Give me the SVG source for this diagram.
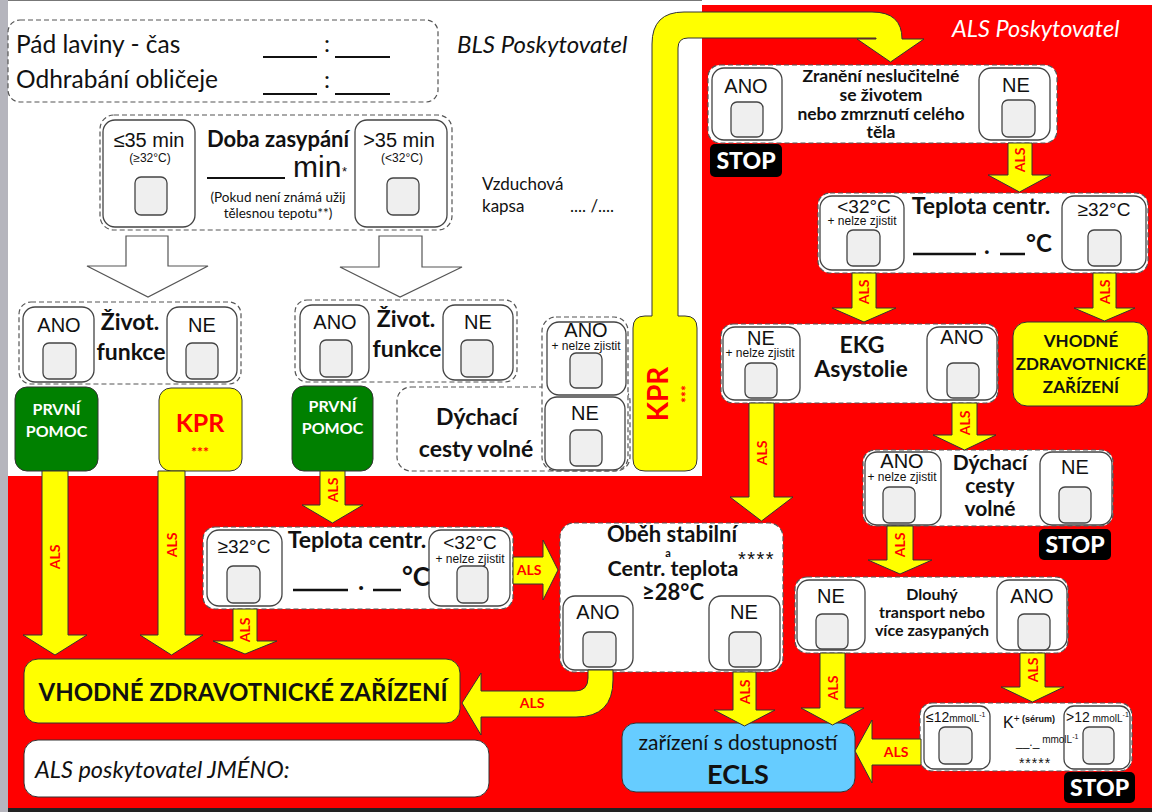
<svg xmlns="http://www.w3.org/2000/svg" width="1152" height="812" viewBox="0 0 1152 812">
<defs>
<style>
.c{font-family:Lato,"Liberation Sans",sans-serif;fill:#111}
.a{font-family:"Liberation Sans",Arial,sans-serif;fill:#111}
.b{font-weight:bold}
.i{font-style:italic}
.m{text-anchor:middle}
.dash{fill:#fff;stroke:#555;stroke-width:1.2;stroke-dasharray:5 3}
.opt{fill:#fff;stroke:#444;stroke-width:1.3}
.cb{fill:#efefef;stroke:#444;stroke-width:1.3}
.yel{fill:#ffff00;stroke:#333;stroke-width:1}
.hol{fill:#fff;stroke:#555;stroke-width:1.2}
.als{font-family:Lato,"Liberation Sans",sans-serif;font-weight:bold;font-size:14px;fill:#ff0000;text-anchor:middle}
.stopbox{fill:#000}
.st{font-family:Lato,"Liberation Sans",sans-serif;font-weight:900;fill:#fff;text-anchor:middle;font-size:23px}
.ln{stroke:#111;stroke-width:2}
</style>
</defs>

<rect x="0" y="0" width="1152" height="812" fill="#fff"/>
<rect x="0" y="0" width="8" height="812" fill="#b5b5bd"/>
<line x1="8" y1="0.5" x2="702" y2="0.5" stroke="#777" stroke-width="1"/>
<path d="M702,5 H1152 V808 H8 V476 H702 Z" fill="#ff0000"/>
<rect x="8" y="808" width="1144" height="4" fill="#222"/>

<g id="times">
<rect class="dash" x="8" y="20" width="430" height="82" rx="12"/>
<text class="c" x="16" y="53" font-size="24.5">Pád laviny - čas</text>
<text class="c" x="16" y="88" font-size="24.5">Odhrabání obličeje</text>
<line class="ln" x1="263" y1="57" x2="317" y2="57"/>
<line class="ln" x1="335" y1="57" x2="390" y2="57"/>
<text class="c" x="324" y="52" font-size="24">:</text>
<line class="ln" x1="263" y1="94" x2="317" y2="94"/>
<line class="ln" x1="335" y1="94" x2="390" y2="94"/>
<text class="c" x="324" y="88" font-size="24">:</text>
</g>

<g id="bls-label">
<text class="c i" x="457" y="53" font-size="24">BLS Poskytovatel</text>
</g>

<g id="doba-zasypani">
<rect class="dash" x="100" y="115" width="352" height="115" rx="14"/>
<rect class="opt" x="103" y="120" width="92" height="107" rx="12"/>
<rect class="opt" x="355" y="120" width="92" height="107" rx="12"/>
<rect class="cb" x="135" y="177" width="32" height="38" rx="6"/>
<rect class="cb" x="387" y="178" width="32" height="37" rx="6"/>
<text class="a m" x="149" y="147" font-size="20">≤35 min</text>
<text class="a m" x="150" y="162" font-size="12">(≥32°C)</text>
<text class="a m" x="399" y="147" font-size="20">&gt;35 min</text>
<text class="a m" x="402" y="162" font-size="12">(&lt;32°C)</text>
<text class="c b m" x="278" y="147" font-size="22">Doba zasypání</text>
<line class="ln" x1="207" y1="178" x2="285" y2="178"/>
<text class="a" x="293" y="177" font-size="30">min</text>
<text class="a" x="342" y="176" font-size="13">*</text>
<text class="c m" x="278" y="202" font-size="13.5">(Pokud není známá užij</text>
<text class="c m" x="278" y="218" font-size="13.5">tělesnou tepotu**)</text>
</g>

<g id="vzduchova-kapsa">
<text class="c" x="482" y="190" font-size="17">Vzduchová</text>
<text class="c" x="482" y="212" font-size="17">kapsa</text>
<text class="c" x="570" y="212" font-size="17">.... /....</text>
</g>

<g id="hollow-arrows">
<polygon class="hol" points="126,236 168,236 168,266 208,266 148,297 87,266 126,266"/>
<polygon class="hol" points="379,236 422,236 422,267 462,267 400,297 340,267 379,267"/>
</g>

<g id="zivot-funkce-1">
<rect class="dash" x="19" y="302" width="222" height="82" rx="12"/>
<rect class="opt" x="23" y="307" width="71" height="75" rx="12"/>
<rect class="opt" x="167" y="307" width="70" height="75" rx="12"/>
<rect class="cb" x="43" y="343" width="33" height="36" rx="6"/>
<rect class="cb" x="186" y="343" width="32" height="36" rx="6"/>
<text class="a m" x="59" y="332" font-size="20">ANO</text>
<text class="a m" x="202" y="332" font-size="20">NE</text>
<text class="c b m" x="130" y="330" font-size="23">Život.</text>
<text class="c b m" x="131" y="360" font-size="23">funkce</text>
</g>

<g id="zivot-funkce-2">
<rect class="dash" x="295" y="300" width="222" height="82" rx="12"/>
<rect class="opt" x="300" y="305" width="69" height="75" rx="12"/>
<rect class="opt" x="443" y="305" width="70" height="75" rx="12"/>
<rect class="cb" x="320" y="340" width="32" height="37" rx="6"/>
<rect class="cb" x="461" y="340" width="32" height="37" rx="6"/>
<text class="a m" x="335" y="329" font-size="20">ANO</text>
<text class="a m" x="478" y="329" font-size="20">NE</text>
<text class="c b m" x="406" y="327" font-size="23">Život.</text>
<text class="c b m" x="407" y="357" font-size="23">funkce</text>
</g>

<g id="prvni-pomoc-1">
<rect x="15" y="387" width="83" height="84" rx="12" fill="#008000" stroke="#333"/>
<text class="c b m" x="56.5" y="415" font-size="16" style="fill:#fff">PRVNÍ</text>
<text class="c b m" x="56.5" y="437" font-size="16" style="fill:#fff">POMOC</text>
</g>

<g id="kpr-1">
<rect class="yel" x="159" y="388" width="83" height="83" rx="12"/>
<text class="c b m" x="200" y="432" font-size="25" style="fill:#ff0000">KPR</text>
<text class="c b m" x="200" y="457" font-size="14" style="fill:#ff0000">***</text>
</g>

<g id="prvni-pomoc-2">
<rect x="292" y="386" width="81" height="85" rx="12" fill="#008000" stroke="#333"/>
<text class="c b m" x="332.5" y="412" font-size="16" style="fill:#fff">PRVNÍ</text>
<text class="c b m" x="332.5" y="434" font-size="16" style="fill:#fff">POMOC</text>
</g>

<g id="dychaci-cesty-bls">
<rect class="dash" x="397" y="387" width="233" height="84" rx="14"/>
<rect class="dash" x="542" y="317" width="86" height="154" rx="14"/>
<rect class="opt" x="547" y="322" width="79" height="73" rx="12"/>
<rect class="opt" x="545" y="397" width="80" height="73" rx="12"/>
<rect class="cb" x="570" y="353" width="32" height="35" rx="6"/>
<rect class="cb" x="570" y="430" width="32" height="36" rx="6"/>
<text class="c b m" x="477" y="425" font-size="23">Dýchací</text>
<text class="c b m" x="476" y="457" font-size="23">cesty volné</text>
<text class="a m" x="586" y="337" font-size="20">ANO</text>
<text class="a m" x="586" y="350" font-size="12">+ nelze zjistit</text>
<text class="a m" x="585" y="420" font-size="20">NE</text>
</g>

<g id="kpr-2">
<path class="yel" d="M633,328 Q633,316 645,316 H652 V44 Q652,12 684,12 H872 Q902,12 902,39 H924 L890.5,62 L857,39 H876 V38 H688 Q678,38 678,48 V316 H685 Q697,316 697,328 V459 Q697,471 685,471 H645 Q633,471 633,459 Z"/>
<text class="c b m" transform="translate(668,394) rotate(-90)" font-size="28" style="fill:#ff0000">KPR</text>
<text class="c b m" transform="translate(691,394) rotate(-90)" font-size="14" style="fill:#ff0000">***</text>
</g>

<g id="als-label">
<text class="c i" x="952" y="37" font-size="23.5" style="fill:#fff">ALS Poskytovatel</text>
</g>

<g id="zraneni">
<rect class="dash" x="708" y="65" width="349" height="78" rx="12"/>
<rect class="opt" x="712" y="68" width="70" height="72" rx="12"/>
<rect class="opt" x="979" y="68" width="71" height="72" rx="12"/>
<rect class="cb" x="731" y="102" width="32" height="35" rx="6"/>
<rect class="cb" x="1002" y="100" width="33" height="37" rx="6"/>
<text class="a m" x="746" y="93" font-size="20">ANO</text>
<text class="a m" x="1016" y="92" font-size="20">NE</text>
<text class="c b m" x="881" y="82" font-size="17.5">Zranění neslučitelné</text>
<text class="c b m" x="881" y="101" font-size="17.5">se životem</text>
<text class="c b m" x="881" y="120" font-size="17.5">nebo zmrznutí celého</text>
<text class="c b m" x="881" y="138" font-size="17.5">těla</text>
</g>
<g id="stop-1">
<rect class="stopbox" x="710" y="144" width="72" height="33" rx="5"/>
<text class="st" x="746" y="169" font-size="22">STOP</text>
</g>

<g id="teplota-als">
<rect class="dash" x="818" y="193" width="330" height="80" rx="12"/>
<rect class="opt" x="820" y="196" width="84" height="74" rx="12"/>
<rect class="opt" x="1062" y="196" width="84" height="74" rx="12"/>
<rect class="cb" x="847" y="230" width="33" height="36" rx="6"/>
<rect class="cb" x="1088" y="230" width="33" height="36" rx="6"/>
<text class="a m" x="864" y="213" font-size="19">&lt;32°C</text>
<text class="a m" x="862" y="225" font-size="12">+ nelze zjistit</text>
<text class="a m" x="1104" y="216" font-size="19">≥32°C</text>
<text class="c b m" x="981" y="214" font-size="23">Teplota centr.</text>
<line x1="913" y1="254" x2="976" y2="254" stroke="#111" stroke-width="2.5"/>
<line x1="1000" y1="254" x2="1025" y2="254" stroke="#111" stroke-width="2.5"/>
<text class="c b" x="984" y="254" font-size="24">.</text>
<text class="c b" x="1026" y="252" font-size="24">°C</text>
</g>

<g id="ekg">
<rect class="dash" x="721" y="324" width="277" height="79" rx="12"/>
<rect class="opt" x="723" y="327" width="77" height="73" rx="12"/>
<rect class="opt" x="927" y="327" width="70" height="73" rx="12"/>
<rect class="cb" x="745" y="363" width="32" height="35" rx="6"/>
<rect class="cb" x="947" y="363" width="32" height="35" rx="6"/>
<text class="a m" x="761" y="345" font-size="20">NE</text>
<text class="a m" x="760" y="357" font-size="12">+ nelze zjistit</text>
<text class="a m" x="962" y="344" font-size="20">ANO</text>
<text class="c b m" x="862" y="353" font-size="23">EKG</text>
<text class="c b m" x="861" y="377" font-size="23">Asystolie</text>
</g>

<g id="vhodne-als">
<rect class="yel" x="1013" y="322" width="135" height="84" rx="14"/>
<text class="c b m" x="1081" y="347" font-size="17">VHODNÉ</text>
<text class="c b m" x="1081" y="370" font-size="17">ZDRAVOTNICKÉ</text>
<text class="c b m" x="1081" y="393" font-size="17">ZAŘÍZENÍ</text>
</g>

<g id="dychaci-cesty-als">
<rect class="dash" x="863" y="450" width="250" height="76" rx="12"/>
<rect class="opt" x="865" y="452" width="76" height="73" rx="12"/>
<rect class="opt" x="1040" y="452" width="72" height="73" rx="12"/>
<rect class="cb" x="883" y="487" width="32" height="36" rx="6"/>
<rect class="cb" x="1059" y="487" width="32" height="36" rx="6"/>
<text class="a m" x="902" y="468" font-size="20">ANO</text>
<text class="a m" x="902" y="481" font-size="12">+ nelze zjistit</text>
<text class="a m" x="1075" y="474" font-size="20">NE</text>
<text class="c b m" x="990" y="470" font-size="21">Dýchací</text>
<text class="c b m" x="990" y="493" font-size="21">cesty</text>
<text class="c b m" x="990" y="516" font-size="21">volné</text>
</g>
<g id="stop-2">
<rect class="stopbox" x="1039" y="529" width="72" height="31" rx="5"/>
<text class="st" x="1075" y="553">STOP</text>
</g>

<g id="dlouhy-transport">
<rect class="dash" x="795" y="577" width="273" height="76" rx="12"/>
<rect class="opt" x="797" y="580" width="68" height="70" rx="12"/>
<rect class="opt" x="997" y="580" width="70" height="70" rx="12"/>
<rect class="cb" x="816" y="614" width="32" height="35" rx="6"/>
<rect class="cb" x="1018" y="614" width="32" height="36" rx="6"/>
<text class="a m" x="831" y="603" font-size="20">NE</text>
<text class="a m" x="1032" y="603" font-size="20">ANO</text>
<text class="c b m" x="932" y="600" font-size="16">Dlouhý</text>
<text class="c b m" x="932" y="618" font-size="16">transport nebo</text>
<text class="c b m" x="932" y="636" font-size="16">více zasypaných</text>
</g>

<g id="obeh-stabilni">
<rect class="dash" x="560" y="523" width="223" height="149" rx="14"/>
<rect class="opt" x="563" y="596" width="70" height="74" rx="12"/>
<rect class="opt" x="709" y="596" width="71" height="74" rx="12"/>
<rect class="cb" x="583" y="632" width="33" height="35" rx="6"/>
<rect class="cb" x="729" y="632" width="32" height="35" rx="6"/>
<text class="c b m" x="672" y="542" font-size="22">Oběh stabilní</text>
<text class="c b m" x="668" y="557" font-size="11">a</text>
<text class="c b m" x="673" y="576" font-size="21.5">Centr. teplota</text>
<text class="c b m" x="673" y="600" font-size="22">≥28°C</text>
<text class="a" x="738" y="566" font-size="20" letter-spacing="1.5">****</text>
<text class="a m" x="598" y="619" font-size="20">ANO</text>
<text class="a m" x="744" y="619" font-size="20">NE</text>
</g>

<g id="teplota-bls">
<rect class="dash" x="203" y="527" width="310" height="82" rx="12"/>
<rect class="opt" x="207" y="530" width="75" height="76" rx="12"/>
<rect class="opt" x="429" y="530" width="81" height="76" rx="12"/>
<rect class="cb" x="227" y="566" width="33" height="37" rx="6"/>
<rect class="cb" x="457" y="566" width="31" height="37" rx="6"/>
<text class="a m" x="244" y="553" font-size="19">≥32°C</text>
<text class="a m" x="470" y="549" font-size="19">&lt;32°C</text>
<text class="a m" x="470" y="563" font-size="12">+ nelze zjistit</text>
<text class="c b m" x="357" y="548" font-size="23">Teplota centr.</text>
<line x1="293" y1="590" x2="348" y2="590" stroke="#111" stroke-width="2.5"/>
<line x1="373" y1="590" x2="401" y2="590" stroke="#111" stroke-width="2.5"/>
<text class="c b" x="358" y="590" font-size="26">.</text>
<text class="c b" x="402" y="586" font-size="26">°C</text>
</g>

<g id="vhodne-bls">
<rect class="yel" x="24" y="659" width="436" height="64" rx="14"/>
<text class="c b m" x="243" y="701" font-size="24">VHODNÉ ZDRAVOTNICKÉ ZAŘÍZENÍ</text>
</g>

<g id="jmeno">
<rect x="24" y="740" width="465" height="57" rx="14" fill="#fff" stroke="#333"/>
<text class="c i" x="35" y="778" font-size="23.5">ALS poskytovatel JMÉNO:</text>
</g>

<g id="ecls">
<rect x="622" y="723" width="233" height="69" rx="14" fill="#66ccff" stroke="#333"/>
<text class="c m" x="738" y="750" font-size="21">zařízení s dostupností</text>
<text class="c b m" x="738" y="784" font-size="27">ECLS</text>
</g>

<g id="kalium">
<rect class="dash" x="920" y="703" width="212" height="68" rx="12"/>
<rect class="opt" x="924" y="706" width="66" height="63" rx="10"/>
<rect class="opt" x="1064" y="706" width="66" height="63" rx="10"/>
<rect class="cb" x="939" y="727" width="33" height="37" rx="6"/>
<rect class="cb" x="1083" y="727" width="31" height="37" rx="6"/>
<text class="a" x="926" y="722" font-size="14">≤12<tspan font-size="10">mmolL</tspan><tspan font-size="7" dy="-5">-1</tspan></text>
<text class="a" x="1066" y="722" font-size="14">&gt;12<tspan font-size="10"> mmolL</tspan><tspan font-size="7" dy="-5">-1</tspan></text>
<text class="a" x="1003" y="728" font-size="16">K<tspan font-size="10" dy="-6">+</tspan><tspan font-size="9" font-weight="bold"> (sérum)</tspan></text>
<text class="a" x="1016" y="746" font-size="12">__._<tspan font-size="10" dy="-3"> mmolL</tspan><tspan font-size="7" dy="-4">-1</tspan></text>
<text class="a m" x="1035" y="768" font-size="14" letter-spacing="1">*****</text>
</g>
<g id="stop-3">
<rect class="stopbox" x="1064" y="772" width="71" height="31" rx="5"/>
<text class="st" x="1099.5" y="796">STOP</text>
</g>

<g id="connectors">
<polygon class="yel" points="1008,143 1032,143 1032,175 1051,175 1019.5,192 988,175 1008,175"/>
<text class="als" transform="translate(1025,160) rotate(-90)">ALS</text>
<polygon class="yel" points="852,273 876,273 876,308 896,308 864,322 832,308 852,308"/>
<text class="als" transform="translate(869,292) rotate(-90)">ALS</text>
<polygon class="yel" points="1093,273 1116,273 1116,308 1135,308 1104.5,321 1074,308 1093,308"/>
<text class="als" transform="translate(1109.5,292) rotate(-90)">ALS</text>
<polygon class="yel" points="952,403 977,403 977,435 996,435 964.5,450 933,435 952,435"/>
<text class="als" transform="translate(969.5,423) rotate(-90)">ALS</text>
<polygon class="yel" points="749,403 774,403 774,497 793,497 761.5,521 730,497 749,497"/>
<text class="als" transform="translate(766.5,453) rotate(-90)">ALS</text>
<polygon class="yel" points="887,526 913,526 913,560 932,560 900,574 868,560 887,560"/>
<text class="als" transform="translate(905,545) rotate(-90)">ALS</text>
<polygon class="yel" points="820,653 845,653 845,708 864,708 832.5,725 801,708 820,708"/>
<text class="als" transform="translate(837.5,688) rotate(-90)">ALS</text>
<polygon class="yel" points="733,672 756,672 756,710 775,710 744.5,726 714,710 733,710"/>
<text class="als" transform="translate(749.5,692) rotate(-90)">ALS</text>
<polygon class="yel" points="1020,653 1045,653 1045,687 1064,687 1032.5,702 1001,687 1020,687"/>
<text class="als" transform="translate(1037.5,670) rotate(-90)">ALS</text>
<polygon class="yel" points="320,471 345,471 345,505 363,505 332.5,523 302,505 320,505"/>
<text class="als" transform="translate(337.5,490) rotate(-90)">ALS</text>
<polygon class="yel" points="233,609 257,609 257,641 277,641 245,654 213,641 233,641"/>
<text class="als" transform="translate(250,630) rotate(-90)">ALS</text>
<polygon class="yel" points="42,471 68,471 68,635 87,635 55,655 23,635 42,635"/>
<text class="als" transform="translate(60,557) rotate(-90)">ALS</text>
<polygon class="yel" points="158,471 185,471 185,635 203,635 171.5,655 140,635 158,635"/>
<text class="als" transform="translate(176.5,545) rotate(-90)">ALS</text>
<polygon class="yel" points="513,557 543,557 543,540 558,570 543,600 543,584 513,584"/>
<text class="als" x="529" y="575">ALS</text>
<polygon class="yel" points="921,739 872,739 872,720 855,751 872,783 872,765 921,765"/>
<text class="als" x="896" y="757">ALS</text>
<path class="yel" d="M613,670 V680 Q613,717 576,717 H481 V735 L462,703 L481,673 V691 H575 Q588,691 588,678 V670 Z"/>
<text class="als" x="532" y="708">ALS</text>
</g>
</svg>
